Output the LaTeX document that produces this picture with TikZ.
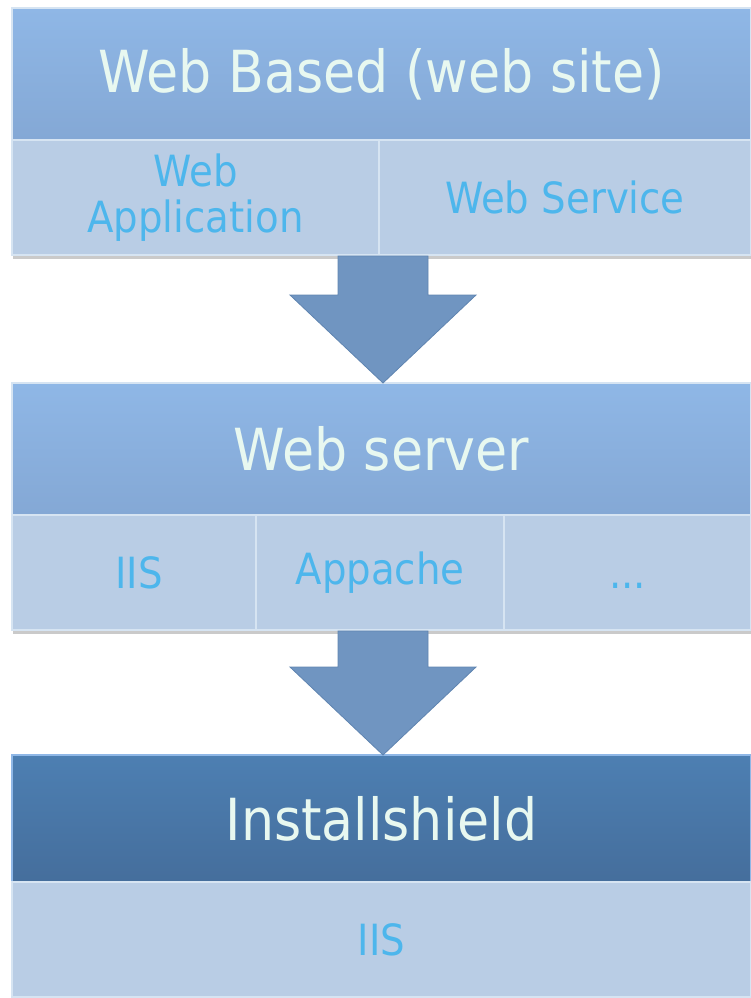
\documentclass[tikz,border=0pt]{standalone}
\usepackage{fontspec}
\setmainfont{DejaVu Sans Condensed}
\usetikzlibrary{calc,shadows}
\definecolor{hdrtop}{HTML}{8FB7E6}
\definecolor{hdrbot}{HTML}{84A8D5}
\definecolor{darktop}{HTML}{4D7FB2}
\definecolor{darkbot}{HTML}{456E9C}
\definecolor{cellc}{HTML}{B9CDE5}
\definecolor{celledge}{HTML}{D6E4F2}
\definecolor{hdrtext}{HTML}{E8F8F0}
\definecolor{celltext}{HTML}{4DB6EC}
\definecolor{arrowc}{HTML}{7095C1}
\definecolor{arrowedge}{HTML}{5F84B0}
\tikzset{
  base/.style={rectangle, inner sep=0pt, outer sep=0pt, anchor=north west, align=center,
    drop shadow={shadow xshift=1pt, shadow yshift=-4pt, opacity=0.35, fill=black!60}},
  hdr/.style={base, top color=hdrtop, bottom color=hdrbot, draw=celledge, line width=1.2pt,
    text=hdrtext, font=\fontsize{58}{60}\selectfont},
  darkhdr/.style={base, top color=darktop, bottom color=darkbot, draw=hdrtop, line width=1.2pt,
    text=hdrtext, font=\fontsize{58}{60}\selectfont},
  cell/.style={base, fill=cellc, draw=celledge, line width=1.5pt, text=celltext,
    font=\fontsize{43}{46}\selectfont},
  bigarrow/.style={fill=arrowc, draw=arrowedge, line width=0.8pt, line join=miter}
}
\begin{document}
\begin{tikzpicture}[x=1pt,y=-1pt]
\useasboundingbox (0,0) rectangle (751,998);
% block 1
\node[hdr, minimum width=739pt, minimum height=132pt] (h1) at (12,8) {Web Based (web site)};
\node[cell, minimum width=367pt, minimum height=115pt] (c11) at (12,140) {Web\\Application};
\node[cell, minimum width=372pt, minimum height=115pt] (c12) at (379,140) {Web Service};
% block 2
\node[hdr, minimum width=739pt, minimum height=132pt] (h2) at (12,383) {Web server};
\node[cell, minimum width=244pt, minimum height=115pt] (c21) at (12,515) {\hspace*{10pt}IIS};
\node[cell, minimum width=248pt, minimum height=115pt] (c22) at (256,515) {Appache};
\node[cell, minimum width=247pt, minimum height=115pt] (c23) at (504,515) {\vphantom{IIS}...};
% block 3
\node[darkhdr, minimum width=739pt, minimum height=127pt] (h3) at (12,755) {Installshield};
\node[cell, minimum width=739pt, minimum height=115pt] (c31) at (12,882) {IIS};
% arrows
\coordinate (a1s) at (383,256);
\coordinate (a2s) at (383,631);
\draw[bigarrow] ($(a1s)+(-45,0)$) -- ($(a1s)+(-45,39)$) -- ($(a1s)+(-93,39)$) -- (h2.north -| a1s)
  -- ($(a1s)+(93,39)$) -- ($(a1s)+(45,39)$) -- ($(a1s)+(45,0)$) -- cycle;
\draw[bigarrow] ($(a2s)+(-45,0)$) -- ($(a2s)+(-45,36)$) -- ($(a2s)+(-93,36)$) -- (h3.north -| a2s)
  -- ($(a2s)+(93,36)$) -- ($(a2s)+(45,36)$) -- ($(a2s)+(45,0)$) -- cycle;
\end{tikzpicture}
\end{document}
